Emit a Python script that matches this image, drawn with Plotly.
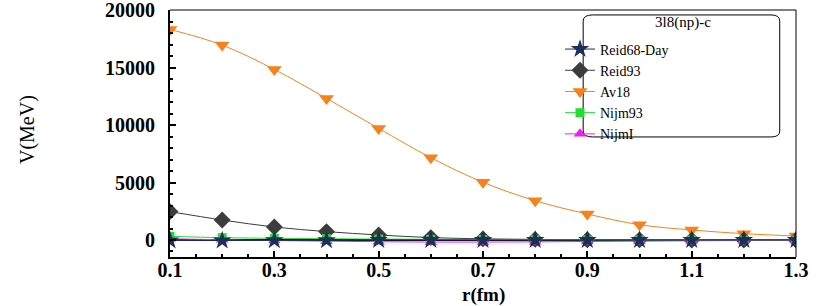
import plotly.graph_objects as go

r_fm = [0.1, 0.2, 0.3, 0.4, 0.5, 0.6, 0.7, 0.8, 0.9, 1.0, 1.1, 1.2, 1.3]
reid68_day = [-40, -50, -30, -20, -10, 0, 0, 0, 0, 0, 0, 0, 0]
reid93 = [2470, 1740, 1130, 730, 435, 210, 100, 50, 25, 10, 5, 0, 0]
av18 = [18320, 16960, 14840, 12320, 9710, 7160, 5020, 3420, 2260, 1330, 870, 550, 350]
nijm93 = [320, 200, 150, 110, 80, 60, 40, 30, 20, 10, 5, 0, 0]
nijmI = [100, 20, -50, -100, -150, -180, -180, -160, -130, -100, -70, -50, -30]

x_ticks = [0.1, 0.3, 0.5, 0.7, 0.9, 1.1, 1.3]
x_tick_labels = ["0.1", "0.3", "0.5", "0.7", "0.9", "1.1", "1.3"]
y_ticks = [0, 5000, 10000, 15000, 20000]
y_tick_labels = ["0", "5000", "10000", "15000", "20000"]

legend_title = "3l8(np)-c"
x_title = "r(fm)"
y_title = "V(MeV)"

SERIF = "Liberation Serif"

fig = go.Figure()

def add(name, y, color, symbol, size, rank, lw=1):
    fig.add_trace(go.Scatter(
        x=r_fm, y=y, name=name, mode="lines+markers",
        line=dict(color=color, width=lw, shape="spline"),
        marker=dict(symbol=symbol, size=size, color=color,
                    line=dict(width=0)),
        legendrank=rank,
    ))

add("Av18", av18, "#f5821f", "triangle-down", 13, 3)
add("Reid93", reid93, "#3c3c3c", "diamond", 13, 2)
add("NijmI", nijmI, "#ee1fee", "triangle-up", 11, 5)
add("Nijm93", nijm93, "#22dd33", "square", 9, 4)
add("Reid68-Day", reid68_day, "#1f2d5a", "star", 14, 1)

tickfont = dict(family=SERIF, size=20, color="black", weight="bold")

fig.update_layout(
    width=830, height=306,
    margin=dict(l=170, r=34, t=10, b=49, autoexpand=False),
    paper_bgcolor="white", plot_bgcolor="white",
    showlegend=True,
    legend=dict(
        x=0.623, y=0.905, xanchor="left", yanchor="top",
        bgcolor="rgba(0,0,0,0)", borderwidth=0,
        font=dict(family=SERIF, size=14, color="black"),
        tracegroupgap=0, itemwidth=30,
    ),
    xaxis=dict(
        range=[0.1, 1.3], tickmode="array", tickvals=x_ticks, ticktext=x_tick_labels,
        ticks="inside", ticklen=6, tickwidth=1.5, tickcolor="black",
        minor=dict(dtick=0.05, ticks="inside", ticklen=3, tickcolor="black"),
        showline=True, linecolor="black", linewidth=2,
        showgrid=False, zeroline=False, automargin=False,
        tickfont=tickfont, ticklabelstandoff=-6, ticklabeloverflow="allow",
    ),
    yaxis=dict(
        range=[-1480, 20010], tickmode="array", tickvals=y_ticks, ticktext=y_tick_labels,
        ticks="inside", ticklen=6, tickwidth=1.5, tickcolor="black",
        minor=dict(dtick=1000, ticks="inside", ticklen=3, tickcolor="black"),
        showline=True, linecolor="black", linewidth=2,
        showgrid=False, zeroline=True, zerolinecolor="black", zerolinewidth=1.5,
        tickfont=tickfont, ticklabelstandoff=9, automargin=False,
        ticklabeloverflow="allow",
    ),
    annotations=[
        dict(text="<b>" + x_title + "</b>", xref="paper", yref="paper",
             x=0.5, y=-0.154, xanchor="center", yanchor="middle", showarrow=False,
             font=dict(family=SERIF, size=19, color="black")),
        dict(text=y_title, xref="paper", yref="paper",
             x=-0.2284, y=0.514, xanchor="center", yanchor="middle", showarrow=False,
             textangle=-90, font=dict(family=SERIF, size=20, color="black")),
        dict(text=legend_title, xref="paper", yref="paper",
             x=(683 - 170) / 626, y=(257 - 22) / 247, xanchor="center", yanchor="middle",
             showarrow=False, font=dict(family=SERIF, size=15, color="black")),
    ],
    shapes=[
        dict(type="line", xref="paper", yref="paper", x0=0, x1=1, y0=1, y1=1,
             line=dict(color="#808080", width=2)),
        dict(type="line", xref="paper", yref="paper", x0=1, x1=1, y0=0, y1=1,
             line=dict(color="black", width=1)),
        dict(type="path", xref="paper", yref="paper",
             path="M 0.675 0.98 L 0.96 0.98 Q 0.974 0.98 0.974 0.955 L 0.974 0.51 "
                  "Q 0.974 0.486 0.96 0.486 L 0.675 0.486 Q 0.66 0.486 0.66 0.51 "
                  "L 0.66 0.955 Q 0.66 0.98 0.675 0.98 Z",
             line=dict(color="black", width=1), fillcolor="rgba(0,0,0,0)", layer="above"),
    ],
)

fig.write_html("out.html", config={"displayModeBar": False},
               post_script="document.body.style.margin='0';")
